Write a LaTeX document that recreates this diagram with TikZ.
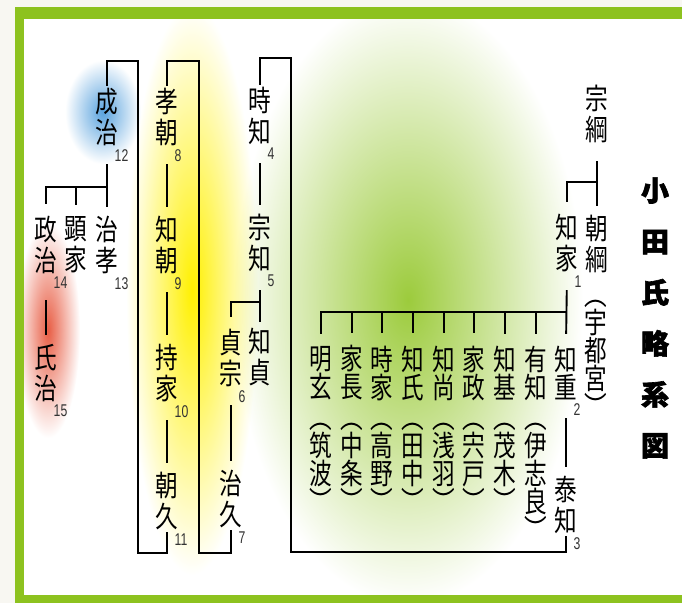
\documentclass[tikz,border=0pt]{standalone}
\usepackage{fontspec}
\newfontfamily\cjk{Noto Sans CJK JP}[FakeStretch=0.78]
\newfontfamily\cjktitle{Noto Sans CJK JP}[BoldFeatures={FakeBold=2.2}]
\newfontfamily\numfont{Liberation Sans}[FakeStretch=0.72]
\definecolor{framegreen}{HTML}{8DC21F}
\definecolor{paper}{HTML}{F8F7F2}
\definecolor{glowblue}{HTML}{5AA3DE}
\definecolor{glowred}{HTML}{E85E45}
\definecolor{glowyellow}{HTML}{FFF000}
\definecolor{glowgreen}{HTML}{9CCB3C}

\begin{document}
\begin{tikzpicture}[x=1pt, y=-1pt,
	nm/.style={font=\cjk\fontsize{29}{31}\selectfont, align=center, inner xsep=0pt, inner ysep=2pt},
	rownm/.style={nm, font=\cjk\fontsize{29}{28}\selectfont},
	sub/.style={font=\numfont\fontsize{17}{17}\selectfont, text=black!80, inner sep=0pt, anchor=north west, xshift=-4pt, yshift=-1pt},
	ln/.style={line width=1.9pt},
	down/.style={ln, shorten <=16pt, shorten >=7pt},
	tick/.style={ln, shorten >=10pt},
	glow/.style={blend mode=multiply, outer color=white}]
	\useasboundingbox (0,0) rectangle (682,603);
	\fill[paper] (0,0) rectangle (682,603);
	\fill[framegreen] (15,7) rectangle (682,603);
	\fill[white] (24,19) rectangle (682,595);

	% glows
	\begin{scope}
		\clip (24,19) rectangle (682,595);
		\shade[glow, inner color=glowgreen] (408,300) ellipse (175 and 305);
		\shade[glow, inner color=glowyellow] (192,290) ellipse (66 and 285);
		\shade[glow, inner color=glowblue] (103,112) ellipse (38 and 52);
		\shade[glow, inner color=glowred] (48,330) ellipse (32 and 108);
	\end{scope}

	% names
	\node[nm] (shigeharu) at (107,117) {成\\治};
	\node[nm] (masaharu) at (46,245) {政\\治};
	\node[nm] (akiie) at (76,245) {顕\\家};
	\node[nm] (harutaka) at (107,245) {治\\孝};
	\node[nm] (ujiharu) at (46,373) {氏\\治};
	\node[nm] (takatomo) at (167,117) {孝\\朝};
	\node[nm] (tomotomo) at (167,245) {知\\朝};
	\node[nm] (mochiie) at (167,373) {持\\家};
	\node[nm] (tomohisa) at (167,501) {朝\\久};
	\node[nm] (tokitomo) at (260,116) {時\\知};
	\node[nm] (munetomo) at (260,243) {宗\\知};
	\node[nm] (tomosada) at (260,357) {知\\貞};
	\node[nm] (sadamune) at (231,358) {貞\\宗};
	\node[nm] (haruhisa) at (231,499) {治\\久};
	\node[nm] (munetsuna) at (597,114) {宗\\綱};
	\node[nm] (tomotsuna) at (597,244) {朝\\綱};
	\node[rownm, anchor=north] (utsunomiya) at (596,298) {︵\\宇\\都\\宮\\︶};
	\node[nm] (tomoie) at (567,243) {知\\家};
	\node[rownm] (tomoshige) at (566,373) {知\\重};
	\node[nm] (yasutomo) at (566,505) {泰\\知};

	\node[rownm] (akiharu) at (321,373) {明\\玄};
	\node[rownm] (ienaga) at (352,373) {家\\長};
	\node[rownm] (tokiie) at (382,373) {時\\家};
	\node[rownm] (tomouji) at (413,373) {知\\氏};
	\node[rownm] (tomonao) at (444,373) {知\\尚};
	\node[rownm] (iemasa) at (474,373) {家\\政};
	\node[rownm] (tomomoto) at (505,373) {知\\基};
	\node[rownm] (aritomo) at (536,373) {有\\知};

	\node[rownm, anchor=north] (tsukuba) at (321,421) {︵\\筑\\波\\︶};
	\node[rownm, anchor=north] (nakajo) at (352,421) {︵\\中\\条\\︶};
	\node[rownm, anchor=north] (takano) at (382,421) {︵\\高\\野\\︶};
	\node[rownm, anchor=north] (tanaka) at (413,421) {︵\\田\\中\\︶};
	\node[rownm, anchor=north] (asaba) at (444,421) {︵\\浅\\羽\\︶};
	\node[rownm, anchor=north] (shishido) at (474,421) {︵\\宍\\戸\\︶};
	\node[rownm, anchor=north] (motegi) at (505,421) {︵\\茂\\木\\︶};
	\node[rownm, anchor=north] (ishira) at (536,421) {︵\\伊\\志\\良\\︶};

	% generation numbers
	\node[sub] (n1) at (tomoie.south east) {1};
	\node[sub] (n2) at (tomoshige.south east) {2};
	\node[sub] (n3) at (yasutomo.south east) {3};
	\node[sub] (n4) at (tokitomo.south east) {4};
	\node[sub] (n5) at (munetomo.south east) {5};
	\node[sub] (n6) at (sadamune.south east) {6};
	\node[sub] (n7) at (haruhisa.south east) {7};
	\node[sub] (n8) at (takatomo.south east) {8};
	\node[sub] (n9) at (tomotomo.south east) {9};
	\node[sub] (n10) at (mochiie.south east) {10};
	\node[sub] (n11) at (tomohisa.south east) {11};
	\node[sub] (n12) at (shigeharu.south east) {12};
	\node[sub] (n13) at (harutaka.south east) {13};
	\node[sub] (n14) at (masaharu.south east) {14};
	\node[sub] (n15) at (ujiharu.south east) {15};

	\node[font=\cjktitle\bfseries\fontsize{28}{51}\selectfont, align=center] (title) at (655,318) {小\\田\\氏\\略\\系\\図};

	% junctions
	\coordinate (j0) at (597,182);
	\coordinate (j1) at (566,312);
	\coordinate (j5) at (260,302);
	\coordinate (j12) at (107,187);

	% lines
	\draw[down] (munetsuna.south) -- (tomotsuna.north);
	\draw[tick] (j0) -| (tomoie.north);
	\draw[down, shorten >=10pt] (tomoie.south) -- (tomoshige.north);
	\foreach \kid in {akiharu,ienaga,tokiie,tomouji,tomonao,iemasa,tomomoto,aritomo}
		\draw[tick] (j1) -| (\kid.north);
	\draw[down] (tomoshige.south) -- (yasutomo.north);
	\draw[ln] (yasutomo.south) |- (291,552) |- (260,58) -- (tokitomo.north);
	\draw[down] (tokitomo.south) -- (munetomo.north);
	\draw[down, shorten >=4pt] (munetomo.south) -- (tomosada.north);
	\draw[tick] (j5) -| (sadamune.north);
	\draw[down] (sadamune.south) -- (haruhisa.north);
	\draw[ln] (haruhisa.south) |- (199,553) |- (167,61) -- (takatomo.north);
	\draw[down] (takatomo.south) -- (tomotomo.north);
	\draw[down] (tomotomo.south) -- (mochiie.north);
	\draw[down] (mochiie.south) -- (tomohisa.north);
	\draw[ln] (tomohisa.south) |- (138,553) |- (107,61) -- (shigeharu.north);
	\draw[down] (shigeharu.south) -- (harutaka.north);
	\draw[tick] (j12) -| (masaharu.north);
	\draw[tick] (akiie.north |- j12) -- (akiie.north);
	\draw[down, shorten <=24pt] (masaharu.south) -- (ujiharu.north);
\end{tikzpicture}
\end{document}
